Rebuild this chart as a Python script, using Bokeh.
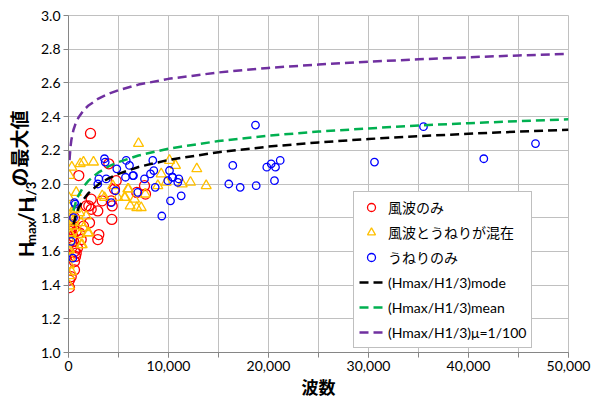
from bokeh.plotting import figure
from bokeh.layouts import row
from bokeh.models import Range1d, FixedTicker, NumeralTickFormatter, Legend, LegendItem
from bokeh.core.properties import value
from bokeh.embed import file_html
from bokeh.resources import INLINE

# ---- data ----
wind_n = [2200, 1030, 4030, 2270, 4770, 4600, 4270, 4370, 2930, 2030, 4330, 2100, 600, 3030, 2930,
          6830, 7600, 7700, 1270, 770, 1100, 430, 430, 600, 600, 600, 270, 100, 100, 100,
          2270, 3370, 770, 200, 300, 500, 700, 1500, 900, 1770]
wind_v = [2.30, 2.05, 2.12, 1.91, 2.02, 1.97, 1.90, 1.87, 1.84, 1.87, 1.79, 1.77, 1.80, 1.70, 1.67,
          1.95, 1.99, 1.94, 1.67, 1.72, 1.71, 1.69, 1.63, 1.60, 1.54, 1.49, 1.45, 1.43, 1.385, 1.72,
          1.85, 1.90, 1.59, 1.76, 1.73, 1.66, 1.57, 1.75, 1.62, 1.87]

mixed_n = [7000, 330, 100, 1170, 1500, 2500, 770, 30, 3370, 3600, 4930, 5670, 6000, 9270, 9770,
           6600, 6170, 6830, 7270, 700, 1100, 1770, 1270, 1500, 1930, 1100, 1270, 30, 100, 30,
           100, 100, 100, 10100, 10700, 12830, 11370, 12200, 13770, 7670, 5930, 5600, 4430, 8930,
           100, 2030, 100, 1370, 200, 300, 200, 300, 150, 400, 500, 250]
mixed_v = [2.24, 2.10, 2.05, 2.12, 2.13, 2.13, 1.95, 1.92, 1.93, 1.92, 1.92, 1.92, 1.97, 2.06, 2.01,
           1.91, 1.87, 1.86, 1.86, 1.85, 1.83, 1.81, 1.77, 1.74, 1.71, 1.70, 1.64, 1.77, 1.71, 1.60,
           1.52, 1.455, 1.395, 2.14, 2.11, 2.09, 2.00, 2.01, 1.99, 1.94, 1.97, 1.92, 1.99, 1.99,
           1.86, 1.71, 1.61, 1.64, 1.80, 1.83, 1.66, 1.48, 1.56, 1.75, 1.78, 1.70]

swell_n = [18700, 35500, 46700, 18770, 19830, 20270, 20700, 21170, 20600, 30600, 41530, 16430,
           16030, 17170, 8430, 8530, 8200, 7600, 10100, 10430, 11030, 9930, 10930, 8670, 11270,
           10200, 9330, 5770, 6100, 4830, 6430, 6930, 4700, 3600, 3670, 3030, 3770, 2930, 600,
           670, 500, 270, 430, 5700, 6500, 4270, 10370]
swell_v = [2.35, 2.34, 2.24, 1.99, 2.10, 2.12, 2.10, 2.14, 2.02, 2.13, 2.15, 2.11,
           2.00, 1.98, 2.14, 2.08, 2.06, 2.03, 2.08, 2.04, 2.03, 2.02, 2.01, 1.98, 1.93,
           1.90, 1.81, 2.14, 2.11, 2.09, 2.05, 1.95, 1.96, 2.15, 2.13, 2.03, 2.03, 2.00, 1.89,
           1.88, 1.80, 1.66, 1.56, 2.04, 2.05, 1.89, 2.04]

curve_n = [500, 700, 1000, 1500, 2000, 3000, 4000, 5000, 7000, 10000, 15000, 20000, 25000,
           30000, 35000, 40000, 45000, 50000]
mode_v = [1.760, 1.807, 1.856, 1.909, 1.946, 1.998, 2.033, 2.060, 2.101, 2.143, 2.189, 2.222,
          2.247, 2.267, 2.284, 2.298, 2.311, 2.322]
mean_v = [1.842, 1.887, 1.933, 1.984, 2.020, 2.069, 2.104, 2.130, 2.169, 2.210, 2.255, 2.287,
          2.311, 2.330, 2.347, 2.361, 2.373, 2.384]
mu_n = [100, 200, 300, 500, 700, 1000, 1500, 2000, 3000, 4000, 5000, 7000, 10000, 15000, 20000,
        25000, 30000, 35000, 40000, 45000, 50000]
mu_v = [2.142, 2.221, 2.266, 2.322, 2.357, 2.395, 2.437, 2.466, 2.507, 2.535, 2.557, 2.590, 2.624,
        2.662, 2.689, 2.709, 2.726, 2.740, 2.752, 2.763, 2.772]

x_ticks = [0, 10000, 20000, 30000, 40000, 50000]
x_minor = [0, 5000, 10000, 15000, 20000, 25000, 30000, 35000, 40000, 45000, 50000]
y_ticks = [1.0, 1.2, 1.4, 1.6, 1.8, 2.0, 2.2, 2.4, 2.6, 2.8, 3.0]

labels = ["風波のみ", "風波とうねりが混在", "うねりのみ",
          "(Hmax/H1/3)mode", "(Hmax/H1/3)mean", "(Hmax/H1/3)μ=1/100"]

# y-axis title pieces: H_max / H_1/3 の最大値
ytitle_latin = ["H", "/H"]
ytitle_sub = ["max", "1/3"]
ytitle_jp = ["の最大値"]

FONT = "Lato, 'Noto Sans CJK JP'"

# ---- layout constants ----
TW = 37                       # width of the y-title strip
FW, FH = 500, 337             # plot frame
BL, BR, BT, BB = 31, 24, 15, 45
H = BT + FH + BB

# ---- main figure ----
p = figure(frame_width=FW, frame_height=FH, x_range=Range1d(0, 50000), y_range=Range1d(1.0, 3.0),
           output_backend="svg", toolbar_location=None,
           min_border_left=BL, min_border_right=BR, min_border_top=BT, min_border_bottom=BB,
           background_fill_color="white", border_fill_color="white",
           outline_line_color="#C0C0C0")

GRID = "#C0C0C0"
AX = "#868686"
p.xaxis.ticker = FixedTicker(ticks=x_ticks, minor_ticks=x_minor)
p.yaxis.ticker = FixedTicker(ticks=y_ticks)
p.xaxis.formatter = NumeralTickFormatter(format="0,0")
p.yaxis.formatter = NumeralTickFormatter(format="0.0")
p.xgrid.grid_line_color = GRID
p.xgrid.minor_grid_line_color = GRID
p.ygrid.grid_line_color = GRID
for ax in (p.xaxis[0], p.yaxis[0]):
    ax.axis_line_color = AX
    ax.major_tick_line_color = AX
    ax.minor_tick_line_color = AX
    ax.major_tick_in = 0
    ax.major_tick_out = 5
    ax.minor_tick_in = 0
    ax.minor_tick_out = 5
    ax.major_label_text_font = "Lato"
    ax.major_label_text_font_size = "14px"
    ax.major_label_text_color = "#000000"
p.yaxis.minor_tick_line_color = None
p.xaxis.major_label_standoff = 3
p.yaxis.major_label_standoff = 3
p.xaxis.axis_label = "波数"
p.xaxis.axis_label_text_font = "Noto Sans CJK JP"
p.xaxis.axis_label_text_font_style = "bold"
p.xaxis.axis_label_text_font_size = "17px"
p.xaxis.axis_label_text_color = "#000000"
p.xaxis.axis_label_standoff = 0

r_wind = p.scatter(wind_n, wind_v, marker="circle", size=10, fill_color=None,
                   line_color="#FF0000", line_width=1.3)
r_mixed = p.scatter(mixed_n, mixed_v, marker="triangle", size=10, fill_color=None,
                    line_color="#FFC000", line_width=1.3)
r_swell = p.scatter(swell_n, swell_v, marker="circle", size=7.5, fill_color=None,
                    line_color="#0000FF", line_width=1.3)
r_mode = p.line(curve_n, mode_v, line_color="#000000", line_width=2.5, line_dash="9 5")
r_mean = p.line(curve_n, mean_v, line_color="#00B050", line_width=2.5, line_dash="9 5")
r_mu = p.line(mu_n, mu_v, line_color="#7030A0", line_width=2.5, line_dash="9 5")

legend = Legend(items=[LegendItem(label=l, renderers=[r]) for l, r in
                       zip(labels, [r_wind, r_mixed, r_swell, r_mode, r_mean, r_mu])],
                location=(285, 4), orientation="vertical",
                border_line_color="#808080", border_line_width=1,
                background_fill_color="white", background_fill_alpha=1.0,
                label_text_font=FONT, label_text_font_size="14px",
                label_text_color="#000000",
                glyph_height=20, glyph_width=24, label_height=20, label_standoff=5,
                spacing=5, padding=5, margin=0)
p.add_layout(legend)

# ---- narrow strip holding the rotated y-axis title ----
t = figure(width=TW, height=H, x_range=Range1d(0, TW), y_range=Range1d(0, H),
           output_backend="svg", toolbar_location=None,
           min_border_left=0, min_border_right=0, min_border_top=0, min_border_bottom=0,
           background_fill_color="white", border_fill_color="white", outline_line_color=None)
t.axis.visible = False
t.grid.visible = False

# positions in strip pixels (y measured from the strip's bottom); text runs upward
base_x, sub_x, jp_x = 25, 30, 18
t.text(x=[base_x] * 2, y=[H - 288, H - 246], text=ytitle_latin, angle=1.5707963,
       text_font=value("Lato"), text_font_style="bold", text_font_size="20px",
       text_align="left", text_baseline="alphabetic", text_color="#000000")
t.text(x=[sub_x] * 2, y=[H - 273.5, H - 223.5], text=ytitle_sub, angle=1.5707963,
       text_font=value("Lato"), text_font_style="bold", text_font_size="13px",
       text_align="left", text_baseline="alphabetic", text_color="#000000")
t.text(x=[jp_x], y=[H - 204], text=ytitle_jp, angle=1.5707963,
       text_font=value("Noto Sans CJK JP"), text_font_style="bold", text_font_size="19px",
       text_align="left", text_baseline="middle", text_color="#000000")

layout = row(t, p, spacing=0)
open("out.html", "w").write(file_html(layout, INLINE))
